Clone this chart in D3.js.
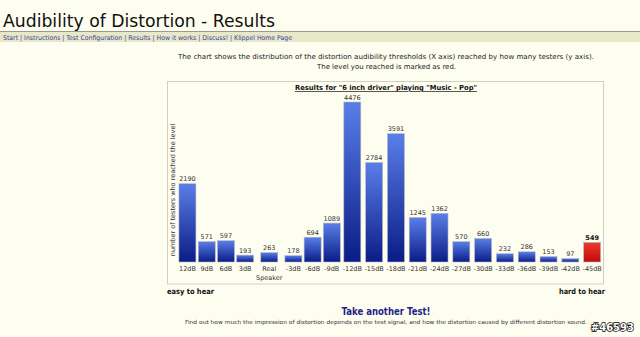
<!DOCTYPE html>
<html><head><meta charset="utf-8">
<script src="https://cdn.jsdelivr.net/npm/d3@7"></script>
<style>
html,body{margin:0;padding:0;background:#fefef0;}
svg{display:block;font-family:"DejaVu Sans",Verdana,sans-serif;}
</style></head>
<body>
<script>
const categories = ["12dB","9dB","6dB","3dB","Real Speaker","-3dB","-6dB","-9dB","-12dB","-15dB","-18dB","-21dB","-24dB","-27dB","-30dB","-33dB","-36dB","-39dB","-42dB","-45dB"];
const testers = [2190,571,597,193,263,178,694,1089,4476,2784,3591,1245,1362,570,660,232,286,153,97,549];
const userLevel = "-45dB";
const navLinks = ["Start","Instructions","Test Configuration","Results","How it works","Discuss!","Klippel Home Page"];

const W = 640, H = 337;
const svg = d3.select("body").append("svg").attr("width", W).attr("height", H);
svg.append("rect").attr("width", W).attr("height", H).attr("fill", "#fefef0");

// gradients
const defs = svg.append("defs");
const gb = defs.append("linearGradient").attr("id","gBlue").attr("x1",0).attr("y1",0).attr("x2",0).attr("y2",1);
gb.append("stop").attr("offset","0%").attr("stop-color","#5a7ee8");
gb.append("stop").attr("offset","100%").attr("stop-color","#0a1c86");
const gr = defs.append("linearGradient").attr("id","gRed").attr("x1",0).attr("y1",0).attr("x2",0).attr("y2",1);
gr.append("stop").attr("offset","0%").attr("stop-color","#ee3a2a");
gr.append("stop").attr("offset","100%").attr("stop-color","#c20a0a");

// page title
svg.append("text").attr("x",3).attr("y",27).attr("font-size",18).attr("fill","#111")
  .attr("textLength",272).attr("lengthAdjust","spacingAndGlyphs")
  .text("Audibility of Distortion - Results");

// nav bar
svg.append("rect").attr("x",0).attr("y",31).attr("width",W).attr("height",11).attr("fill","#e8e8c9");
svg.append("line").attr("x1",0).attr("x2",W).attr("y1",31.5).attr("y2",31.5).attr("stroke","#9a9a8a");
svg.append("text").attr("x",3).attr("y",40).attr("font-size",6.5).attr("fill","#3040a0")
  .attr("textLength",289).attr("lengthAdjust","spacingAndGlyphs")
  .text(navLinks.join(" | "));

// description
svg.append("text").attr("x",386).attr("y",59).attr("font-size",7).attr("fill","#222").attr("text-anchor","middle")
  .attr("textLength",416).attr("lengthAdjust","spacingAndGlyphs")
  .text("The chart shows the distribution of the distortion audibility thresholds (X axis) reached by how many testers (y axis).");
svg.append("text").attr("x",386.5).attr("y",69).attr("font-size",7).attr("fill","#222").attr("text-anchor","middle")
  .attr("textLength",139).attr("lengthAdjust","spacingAndGlyphs")
  .text("The level you reached is marked as red.");

// chart box
svg.append("rect").attr("x",167.5).attr("y",81.5).attr("width",436).attr("height",202.5)
  .attr("fill","none").attr("stroke","#cfcfc4");

// chart title
svg.append("text").attr("x",386).attr("y",90).attr("font-size",7).attr("font-weight","bold")
  .attr("text-anchor","middle").attr("text-decoration","underline").attr("fill","#111")
  .attr("textLength",182).attr("lengthAdjust","spacingAndGlyphs")
  .text('Results for "6 inch driver" playing "Music - Pop"');

// y axis label
svg.append("text").attr("transform","translate(175,190) rotate(-90)").attr("font-size",6.5)
  .attr("text-anchor","middle").attr("fill","#333")
  .text("number of testers who reached the level");

// column layout from measured label widths (table-like)
const labelFont = 6.5;
const measure = svg.append("text").attr("font-size",labelFont).attr("visibility","hidden");
const colW = categories.map(c => {
  const words = c.split(" ");
  const w = d3.max(words, s => { measure.text(s); return measure.node().getComputedTextLength(); });
  return Math.max(19.2, w + 2.6);
});
measure.remove();
const startX = 177.7;
let acc = startX;
const centers = colW.map(w => { const c = acc + w/2; acc += w; return c; });
const x = d3.scaleOrdinal(categories, centers);
const barW = 17;

const baseY = 262;
const y = d3.scaleLinear().domain([0, d3.max(testers)]).range([baseY, 102]);

const g = svg.append("g");
const data = categories.map((c,i) => ({c, v: testers[i]}));
g.selectAll("rect.bar").data(data).join("rect").attr("class","bar")
  .attr("x", d => x(d.c) - barW/2).attr("width", barW)
  .attr("y", d => y(d.v)).attr("height", d => baseY - y(d.v))
  .attr("fill", d => d.c === userLevel ? "url(#gRed)" : "url(#gBlue)")
  .attr("stroke", "#b8b8c8").attr("stroke-width", 0.6);

g.selectAll("text.val").data(data).join("text").attr("class","val")
  .attr("x", d => x(d.c)).attr("y", d => y(d.v) - 2.5)
  .attr("text-anchor","middle").attr("font-size",labelFont)
  .attr("font-weight", d => d.c === userLevel ? "bold" : "normal")
  .attr("fill", d => d.c === userLevel ? "#111" : "#333")
  .text(d => d.v);

const cat = g.selectAll("text.cat").data(categories).join("text").attr("class","cat")
  .attr("x", d => x(d)).attr("y", 271).attr("text-anchor","middle")
  .attr("font-size",labelFont).attr("fill","#333");
cat.each(function(d){
  const words = d.split(" ");
  d3.select(this).selectAll("tspan").data(words).join("tspan")
    .attr("x", x(d)).attr("dy", (w,i) => i ? 8.5 : 0).text(w => w);
});

// easy / hard
svg.append("text").attr("x",167).attr("y",294).attr("font-size",7.5).attr("font-weight","bold").attr("fill","#111")
  .attr("textLength",47).attr("lengthAdjust","spacingAndGlyphs").text("easy to hear");
svg.append("text").attr("x",559).attr("y",294).attr("font-size",7.5).attr("font-weight","bold").attr("fill","#111")
  .attr("textLength",46).attr("lengthAdjust","spacingAndGlyphs").text("hard to hear");

// take another test
svg.append("text").attr("x",386).attr("y",315).attr("font-size",10.5).attr("font-weight","bold")
  .attr("text-anchor","middle").attr("fill","#23238a")
  .attr("textLength",89).attr("lengthAdjust","spacingAndGlyphs").text("Take another Test!");
svg.append("text").attr("x",386).attr("y",324).attr("font-size",5.5).attr("text-anchor","middle").attr("fill","#333")
  .attr("textLength",402).attr("lengthAdjust","spacingAndGlyphs")
  .text("Find out how much the impression of distortion depends on the test signal, and how the distortion caused by different distortion sound.");

// watermark
svg.append("text").attr("x",634).attr("y",331).attr("text-anchor","end").attr("font-size",10)
  .attr("font-weight","bold").attr("fill","#fff").attr("stroke","#000").attr("stroke-width",1.4)
  .attr("paint-order","stroke").text("#46593");
</script>
</body></html>
